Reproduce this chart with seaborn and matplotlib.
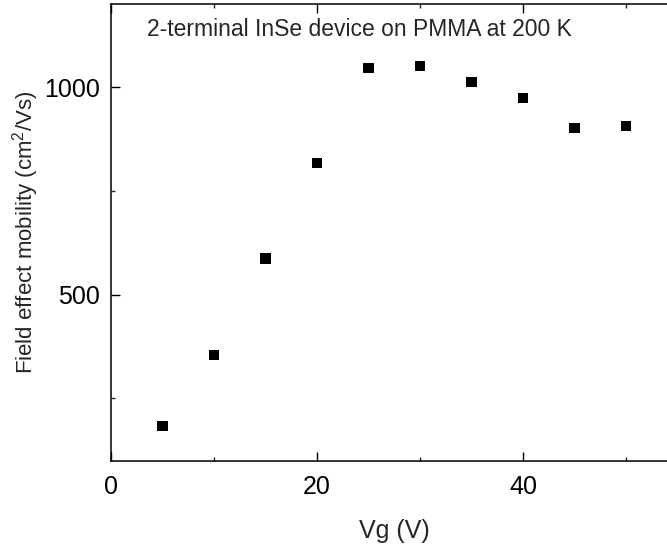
import matplotlib
matplotlib.use("Agg")
import matplotlib.pyplot as plt
import seaborn as sns
import pandas as pd
from matplotlib.ticker import MultipleLocator

vg = [5, 10, 15, 20, 25, 30, 35, 40, 45, 50]
mobility = [183, 354, 587, 818, 1045, 1050, 1011, 973, 902, 906]
xticks = [0, 20, 40]
yticks = [500, 1000]

df = pd.DataFrame({"Vg": vg, "mobility": mobility})

sns.set_style("ticks")
plt.rcParams["font.family"] = ["Liberation Sans", "DejaVu Sans"]
plt.rcParams["mathtext.fontset"] = "custom"
plt.rcParams["mathtext.rm"] = "Liberation Sans"

fig = plt.figure(figsize=(6.67, 5.48), dpi=100)
ax = fig.add_axes([111 / 667, 87.3 / 548, (677.5 - 111) / 667, (544 - 87.3) / 548])

sns.scatterplot(data=df, x="Vg", y="mobility", marker="s", s=52, color="black",
                edgecolor="none", ax=ax, legend=False)

ax.set_xlim(0, 55)
ax.set_ylim(100, 1200)
ax.set_xticks(xticks)
ax.set_yticks(yticks)
ax.xaxis.set_minor_locator(MultipleLocator(10))
ax.yaxis.set_minor_locator(MultipleLocator(250))

for s in ["left", "bottom", "top"]:
    ax.spines[s].set_visible(True)
    ax.spines[s].set_linewidth(1.1)
    ax.spines[s].set_color("black")
ax.spines["right"].set_visible(False)

ax.tick_params(axis="both", which="major", direction="in", length=6.5, width=1.0,
               labelsize=18, pad=8, colors="black")
ax.tick_params(axis="x", which="major", pad=10)
ax.tick_params(axis="both", which="minor", direction="in", length=3, width=1.0)
ax.tick_params(axis="x", which="both", top=True)
ax.tick_params(axis="y", which="both", right=False)

ax.set_xlabel("Vg (V)", fontsize=18, labelpad=15)
ax.set_ylabel("Field effect mobility (cm$^2$/Vs)", fontsize=16, labelpad=2)

ax.text(147 / 667, 1 - 30 / 548, "2-terminal InSe device on PMMA at 200 K",
        transform=fig.transFigure, fontsize=16.5, va="center", ha="left")

fig.savefig("out.png", dpi=100)
